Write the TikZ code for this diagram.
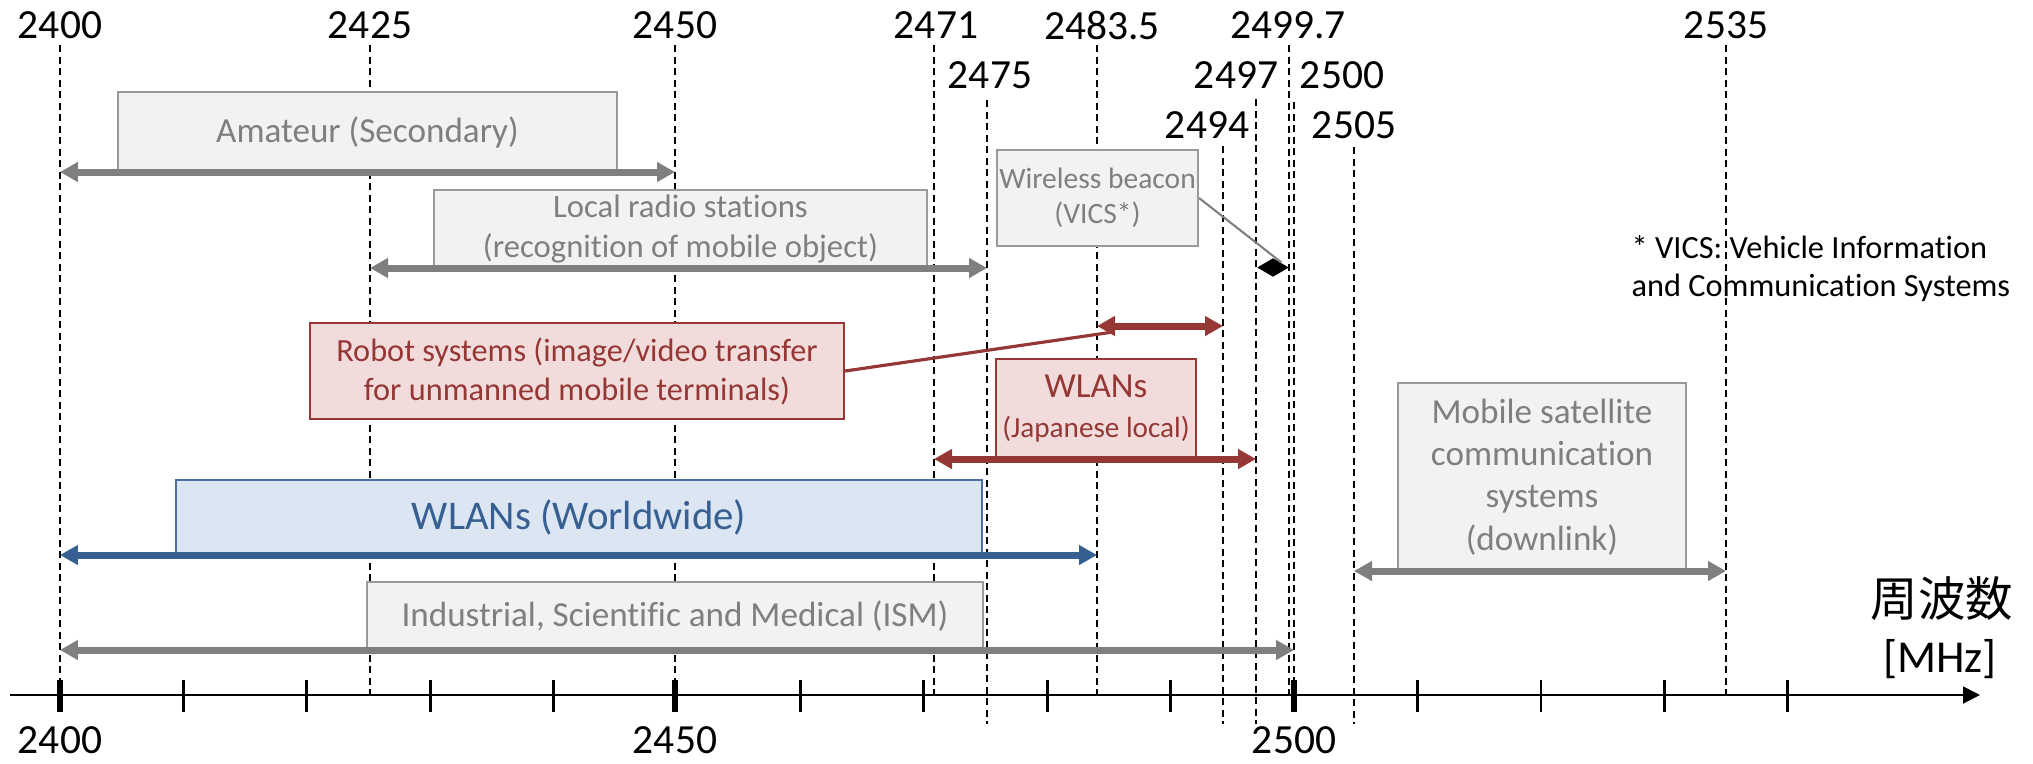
\documentclass[tikz,border=0pt]{standalone}
\usepackage{fontspec}
\setmainfont{Carlito}[Ligatures=NoCommon]
\newfontfamily\jpfont{Noto Sans CJK JP}
\usepackage{tikz}
\usetikzlibrary{arrows.meta,shapes.geometric}

\definecolor{bandgray}{HTML}{7F7F7F}
\definecolor{boxgray}{HTML}{F2F2F2}
\definecolor{edgegray}{HTML}{9A9A9A}
\definecolor{robred}{HTML}{953735}
\definecolor{robfill}{HTML}{F2DCDB}
\definecolor{wlanblue}{HTML}{376092}
\definecolor{wlanfill}{HTML}{DCE6F2}
\definecolor{wlanedge}{HTML}{4A6FA0}

\tikzset{
  guide/.style={draw=black, line width=0.55pt, dash pattern=on 0.07cm off 0.045cm},
  band/.style={line width=2pt, arrows={Triangle[length=0.18cm,width=0.19cm]-Triangle[length=0.18cm,width=0.19cm]}},
  freq/.style={font=\fontsize{11.8}{13.5}\selectfont, inner sep=0pt},
  graybox/.style={draw=edgegray, fill=boxgray, text=bandgray, line width=0.6pt, align=center, inner sep=0pt},
  redbox/.style={draw=robred, fill=robfill, text=robred, line width=0.6pt, align=center, inner sep=0pt},
  bluebox/.style={draw=wlanedge, fill=wlanfill, text=wlanblue, line width=0.6pt, align=center, inner sep=0pt}
}

\begin{document}
\begin{tikzpicture}[x=0.1mm, y=-0.1mm]
  \useasboundingbox (0,0) rectangle (2033,763);

  % positions of the band edges on the axis
  \foreach \n/\x in {2400/60, 2425/370, 2450/675, 2471/934, 2475/987, 2483/1097,
                     2494/1223, 2497/1256, 2499/1289, 2500/1294, 2505/1354, 2535/1726}
    \coordinate (f\n) at (\x, 695);

  % dashed guides
  \foreach \n in {2400,2425,2450,2471,2483,2499,2535}
    \draw[guide] (f\n |- 0,45) -- (f\n);
  \foreach \n/\t in {2475/100, 2497/99, 2494/146, 2505/147}
    \draw[guide] (f\n |- 0,\t) -- (f\n |- 0,724);
  \draw[guide] (f2500 |- 0,102) -- (f2500);

  % frequency axis
  \draw[line width=0.5pt, -{Triangle[length=0.17cm,width=0.17cm]}] (10,695) -- (1980,695);
  \foreach \i in {0,...,14}
    \draw[line width=0.75pt] (60+\i*123.4, 680) -- (60+\i*123.4, 712);
  \foreach \n in {2400,2450,2500}
    \draw[line width=1.9pt] (f\n |- 0,680) -- (f\n |- 0,712);
  \node[freq] (bot2400) at (f2400 |- 0,740) {2400};
  \node[freq] (bot2450) at (f2450 |- 0,740) {2450};
  \node[freq] (bot2500) at (f2500 |- 0,740) {2500};
  \node[font=\jpfont\fontsize{13.5}{15}\selectfont, inner sep=0pt] (axisname) at (1942,599) {周波数};
  \node[font=\fontsize{13}{15}\selectfont, inner sep=0pt] (unit) at (1940,659) {[MHz]};

  % edge labels
  \node[freq] (lbl2400) at (60,25) {2400};
  \node[freq] (lbl2425) at (370,25) {2425};
  \node[freq] (lbl2450) at (675,25) {2450};
  \node[freq] (lbl2471) at (936,25) {2471};
  \node[freq] (lbl2483) at (1102,25) {2483.5};
  \node[freq] (lbl2499) at (1288,25) {2499.7};
  \node[freq] (lbl2535) at (1726,25) {2535};
  \node[freq] (lbl2475) at (990,75) {2475};
  \node[freq] (lbl2497) at (1236,75) {2497};
  \node[freq] (lbl2500) at (1342,75) {2500};
  \node[freq] (lbl2494) at (1207,125) {2494};
  \node[freq] (lbl2505) at (1354,125) {2505};

  % Amateur
  \node[graybox, minimum width=4.99cm, minimum height=0.8cm, font=\fontsize{10}{12}\selectfont] (amateur) at (367.5,132) {Amateur (Secondary)};
  \draw[band, bandgray] (f2400 |- 0,172) -- (f2450 |- 0,172);

  % Local radio stations
  \node[graybox, minimum width=4.93cm, minimum height=0.78cm, font=\fontsize{9.3}{11.2}\selectfont] (localradio) at (680.5,229) {Local radio stations\\(recognition of mobile object)};
  \draw[band, bandgray] (f2425 |- 0,268) -- (f2475 |- 0,268);

  % Wireless beacon
  \node[graybox, minimum width=2.01cm, minimum height=0.96cm, font=\fontsize{8.4}{10}\selectfont] (beacon) at (1097.5,198) {Wireless beacon\\(VICS*)};
  \node[diamond, fill=black, minimum width=0.32cm, minimum height=0.19cm, inner sep=0pt] (vics) at (1273,267.5) {};
  \draw[bandgray, line width=0.6pt] (beacon.east) -- (vics.north east);
  \node[anchor=west, align=left, inner sep=0pt, font=\fontsize{9.2}{10.8}\selectfont] (vicsnote) at (1631,269) {* VICS: Vehicle Information\\and Communication Systems};

  % Robot systems
  \node[redbox, minimum width=5.34cm, minimum height=0.96cm, font=\fontsize{9.2}{11.1}\selectfont] (robot) at (577,371) {Robot systems (image/video transfer\\for unmanned mobile terminals)};
  \coordinate (robottip) at (1113,332);
  \draw[robred, line width=0.9pt] (robot.east) -- (robottip);
  \draw[band, robred] (f2483 |- 0,326) -- (f2494 |- 0,326);

  % WLANs (Japanese local)
  \node[redbox, minimum width=2.0cm, minimum height=1.0cm, font=\fontsize{10}{11.4}\selectfont] (wlanjp) at (1096,409) {WLANs\\{\fontsize{8.3}{11.4}\selectfont (Japanese local)}};
  \draw[band, robred] (f2471 |- 0,459) -- (f2497 |- 0,459);

  % WLANs (Worldwide)
  \node[bluebox, minimum width=8.06cm, minimum height=0.75cm, font=\fontsize{11.6}{13}\selectfont] (wlanww) at (579,517.5) {WLANs (Worldwide)};
  \draw[band, wlanblue] (f2400 |- 0,555) -- (f2483 |- 0,555);

  % Mobile satellite
  \node[graybox, minimum width=2.88cm, minimum height=1.88cm, font=\fontsize{10}{12}\selectfont] (mobsat) at (1542,477) {Mobile satellite\\communication\\systems\\(downlink)};
  \draw[band, bandgray] (f2505 |- 0,571) -- (f2535 |- 0,571);

  % ISM
  \node[graybox, minimum width=6.16cm, minimum height=0.68cm, font=\fontsize{10}{12}\selectfont] (ism) at (675,616) {Industrial, Scientific and Medical (ISM)};
  \draw[band, bandgray] (f2400 |- 0,650) -- (f2500 |- 0,650);
\end{tikzpicture}
\end{document}
